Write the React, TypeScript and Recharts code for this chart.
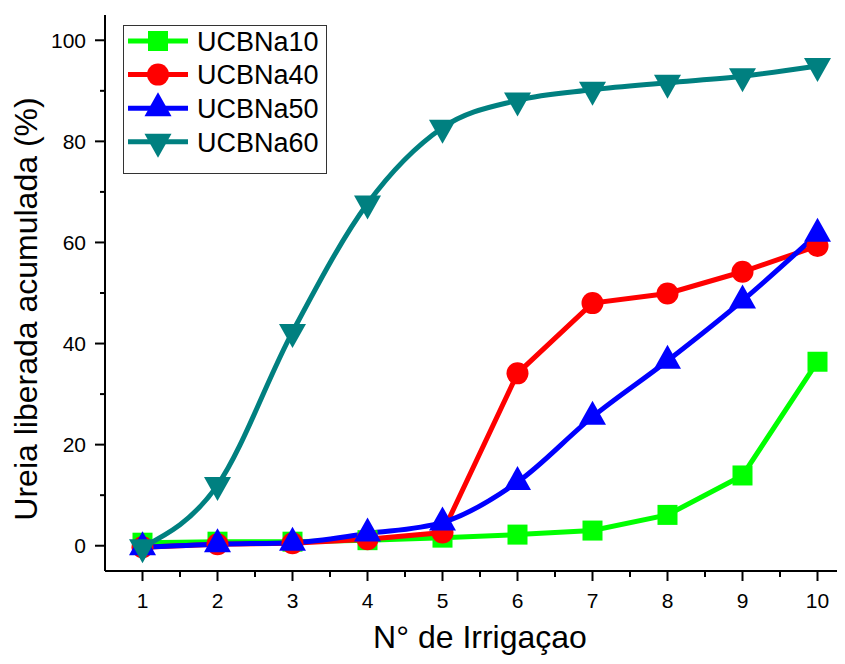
import React from "react";
import { LineChart, Line, XAxis, YAxis, Label } from "recharts";

const irrigacoes = [1, 2, 3, 4, 5, 6, 7, 8, 9, 10];
const ucbna10 = [0.6, 0.8, 0.8, 1.1, 1.6, 2.2, 3.0, 6.1, 13.9, 36.4];
const ucbna40 = [-0.3, 0.3, 0.5, 1.3, 2.6, 34.1, 48.0, 49.9, 54.2, 59.3];
const ucbna50 = [-0.3, 0.3, 0.6, 2.4, 4.6, 12.6, 25.5, 36.6, 48.5, 61.7];
const ucbna60 = [-0.3, 12.0, 42.3, 67.7, 82.7, 88.1, 90.2, 91.6, 92.9, 94.9];

const xTicks = [1, 1.5, 2, 2.5, 3, 3.5, 4, 4.5, 5, 5.5, 6, 6.5, 7, 7.5, 8, 8.5, 9, 9.5, 10, 10.5];
const xTicksTop = [0.5, ...xTicks];
const yTicks = [0, 10, 20, 30, 40, 50, 60, 70, 80, 90, 100];
const yLabelTicks = [0, 20, 40, 60, 80, 100];

const FONT = '"Liberation Sans", Arial, sans-serif';

type Shape = "square" | "circle" | "up" | "down";

const series = [
  { key: "a", name: "UCBNa10", values: ucbna10, color: "#00ff00", shape: "square" as Shape, curve: "linear" },
  { key: "b", name: "UCBNa40", values: ucbna40, color: "#ff0000", shape: "circle" as Shape, curve: "linear" },
  { key: "c", name: "UCBNa50", values: ucbna50, color: "#0000ff", shape: "up" as Shape, curve: "monotone" },
  { key: "d", name: "UCBNa60", values: ucbna60, color: "#008080", shape: "down" as Shape, curve: "monotone" },
];

const data = irrigacoes.map((x, i) => ({
  x,
  a: ucbna10[i],
  b: ucbna40[i],
  c: ucbna50[i],
  d: ucbna60[i],
}));

function marker(shape: Shape, cx: number, cy: number, color: string, key?: string) {
  if (shape === "square") {
    return <rect key={key} x={cx - 10} y={cy - 10} width={20} height={20} fill={color} />;
  }
  if (shape === "circle") {
    return <circle key={key} cx={cx} cy={cy} r={11} fill={color} />;
  }
  if (shape === "up") {
    // centroid at the data point
    const d = `M${cx},${cy - 16} L${cx + 13.5},${cy + 8} L${cx - 13.5},${cy + 8} Z`;
    return <path key={key} d={d} fill={color} />;
  }
  const d = `M${cx},${cy + 16} L${cx + 13.5},${cy - 8} L${cx - 13.5},${cy - 8} Z`;
  return <path key={key} d={d} fill={color} />;
}

const makeDot = (shape: Shape, color: string) => (props: any) => {
  const { cx, cy, index } = props;
  if (cx == null || cy == null) return <g key={`e-${index}`} />;
  return marker(shape, cx, cy, color, `dot-${shape}-${index}`);
};

const BottomTick = (props: any) => {
  const { x, y, payload } = props;
  const v = payload.value;
  const major = Number.isInteger(v);
  return (
    <g>
      <line x1={x} x2={x} y1={y} y2={y + (major ? 10 : 6)} stroke="#000" strokeWidth={2} />
      {major && (
        <text x={x} y={y + 37} textAnchor="middle" fontSize={21} fontFamily={FONT} fill="#000">
          {v}
        </text>
      )}
    </g>
  );
};

const TopTick = (props: any) => {
  const { x, y, payload } = props;
  const major = Number.isInteger(payload.value);
  return <line x1={x} x2={x} y1={y} y2={y + (major ? 5 : 3)} stroke="#000" strokeWidth={1.5} />;
};

const LeftTick = (props: any) => {
  const { x, y, payload } = props;
  const v = payload.value;
  const major = yLabelTicks.includes(v);
  return (
    <g>
      <line x1={x - (major ? 10 : 5)} x2={x} y1={y} y2={y} stroke="#000" strokeWidth={2} />
      {major && (
        <text x={x - 19} y={y} dy="0.36em" textAnchor="end" fontSize={21} fontFamily={FONT} fill="#000">
          {v}
        </text>
      )}
    </g>
  );
};

const Legenda = () => (
  <div
    style={{
      position: "absolute",
      left: 115,
      top: 17,
      width: 202,
      height: 147,
      border: "1px solid #333",
      background: "#fff",
    }}
  >
    <svg width={202} height={147}>
      {series.map((s, i) => {
        const cy = 15 + i * 33.6;
        return (
          <g key={s.key}>
            <line x1={4} x2={64} y1={cy} y2={cy} stroke={s.color} strokeWidth={5} />
            {marker(s.shape, 34, cy, s.color)}
            <text x={73} y={cy} dy="0.36em" fontSize={27} fontFamily={FONT} fill="#000">
              {s.name}
            </text>
          </g>
        );
      })}
    </svg>
  </div>
);

export default function App() {
  return (
    <div style={{ position: "relative", width: 837, height: 656, overflow: "hidden" }}>
      <LineChart
        width={860}
        height={656}
        data={data}
        margin={{ top: 7, right: 13, bottom: 0, left: 0 }}
      >
        <XAxis
          dataKey="x"
          type="number"
          domain={[0.5, 10.5]}
          ticks={xTicks}
          interval={0}
          height={93}
          tickSize={0}
          tickMargin={0}
          tick={<BottomTick />}
          axisLine={{ stroke: "#000", strokeWidth: 2 }}
          tickLine={false}
        >
          <Label
            content={(p: any) => {
              const vb = p.viewBox || {};
              return (
                <text
                  x={vb.x + vb.width / 2}
                  y={640}
                  textAnchor="middle"
                  fontSize={32}
                  fontFamily={FONT}
                  fill="#000"
                >
                  N° de Irrigaçao
                </text>
              );
            }}
          />
        </XAxis>
        <XAxis
          xAxisId="top"
          orientation="top"
          dataKey="x"
          type="number"
          domain={[0.5, 10.5]}
          ticks={xTicksTop}
          interval={0}
          height={0}
          tickSize={0}
          tickMargin={0}
          tick={<TopTick />}
          axisLine={{ stroke: "#000", strokeWidth: 2 }}
          tickLine={false}
        />
        <YAxis
          type="number"
          domain={[-5, 105]}
          ticks={yTicks}
          interval={0}
          width={97}
          tickSize={0}
          tickMargin={0}
          tick={<LeftTick />}
          axisLine={{ stroke: "#000", strokeWidth: 2 }}
          tickLine={false}
        >
          <Label
            content={(p: any) => {
              const vb = p.viewBox || {};
              const cx = 29;
              const cy = vb.y + vb.height / 2 + 16;
              return (
                <text
                  x={cx}
                  y={cy}
                  transform={`rotate(-90, ${cx}, ${cy})`}
                  textAnchor="middle"
                  fontSize={32}
                  fontFamily={FONT}
                  fill="#000"
                >
                  Ureia liberada acumulada (%)
                </text>
              );
            }}
          />
        </YAxis>
        {series.map((s) => (
          <Line
            key={s.key}
            dataKey={s.key}
            name={s.name}
            type={s.curve as any}
            stroke={s.color}
            strokeWidth={5}
            dot={makeDot(s.shape, s.color)}
            activeDot={false}
            isAnimationActive={false}
          />
        ))}
      </LineChart>
      <Legenda />
    </div>
  );
}
